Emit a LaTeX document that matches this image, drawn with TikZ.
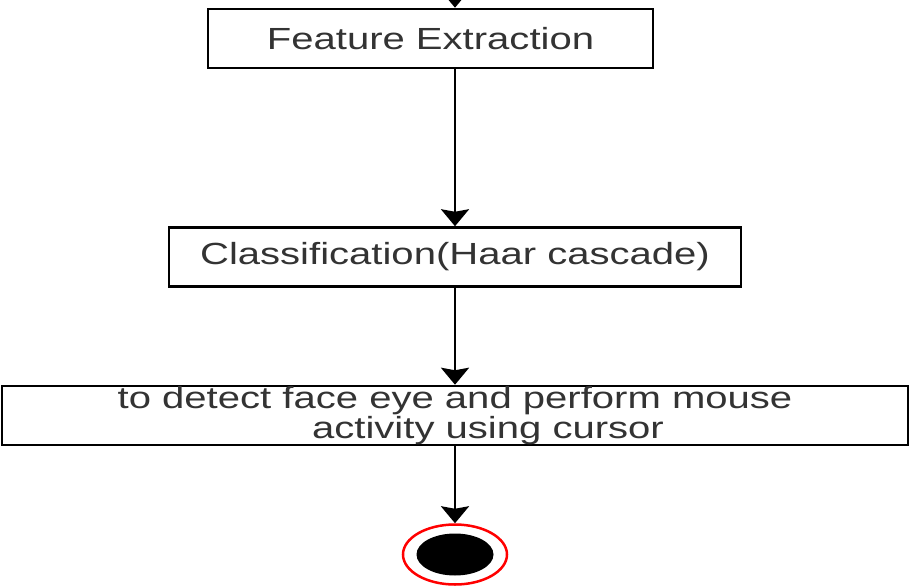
\documentclass[tikz,border=0pt]{standalone}
\usepackage{fontspec}
\setmainfont{Liberation Sans}[FakeStretch=1.31]
\usetikzlibrary{shapes.geometric, arrows.meta, positioning}

\begin{document}
\begin{tikzpicture}[node distance=2cm, >={Stealth[width=0.56cm,length=0.34cm,inset=0.05cm]},
    stage/.style={rectangle, draw=black, line width=0.05cm, fill=white, minimum height=1.18cm, align=center, inner sep=0pt, font=\fontsize{17.4}{17}\selectfont, text=black!80},
    flow/.style={->, line width=0.05cm}]
    \useasboundingbox (0,0) rectangle (18.2,-11.74);
    \coordinate (top) at (9.1,0.4);

    \node [stage, minimum width=8.9cm] (feat) at (8.61,-0.77) {Feature Extraction};
    \node [stage, minimum width=11.44cm, below=3.14cm of feat, xshift=0.49cm] (cls) {Classification(Haar cascade)};
    \node [stage, minimum width=18.12cm, below=1.94cm of cls] (act) {to detect face eye and perform mouse\\ \hspace*{1.32cm}activity using cursor};
    \node [ellipse, draw=red, line width=0.05cm, minimum width=2.08cm, minimum height=1.2cm, below=1.54cm of act] (final) {};
    \node [ellipse, fill=black, minimum width=1.54cm, minimum height=0.84cm] (finaldot) at (final) {};

    \draw[flow] (top) -- (feat.north -| top);
    \draw[flow] (feat.south -| top) -- (cls);
    \draw[flow] (cls) -- (act);
    \draw[flow] (act) -- (final);
\end{tikzpicture}
\end{document}
